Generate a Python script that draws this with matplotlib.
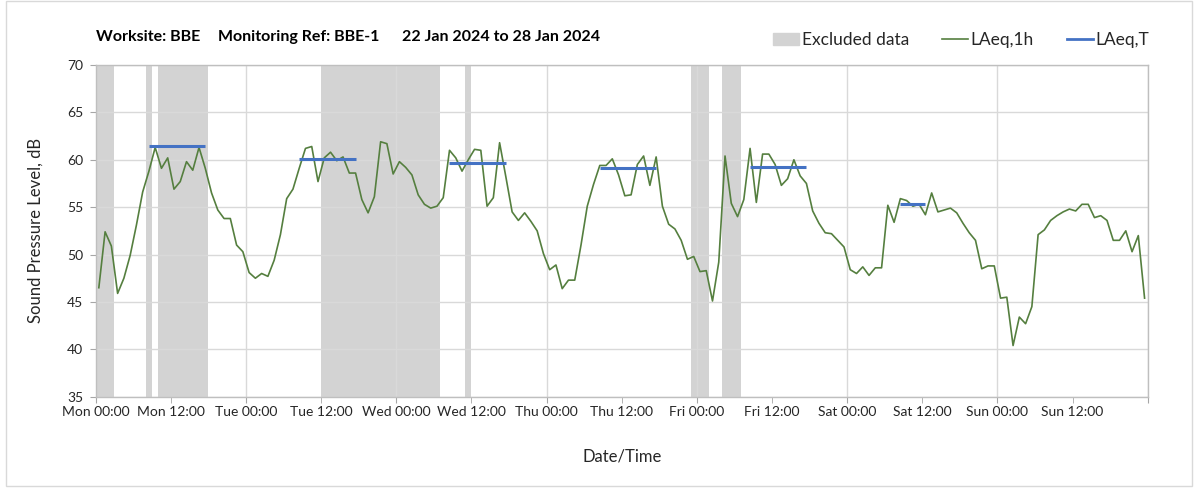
import matplotlib
matplotlib.use("Agg")
import matplotlib.pyplot as plt
from matplotlib.patches import Patch, Rectangle
from matplotlib.lines import Line2D

plt.rcParams['font.family'] = ['Lato', 'DejaVu Sans']

# hourly LAeq values (dB), one per hour, Mon 00:00 -> Sun 23:00, plotted at mid-hour
laeq_mon = [46.5, 52.4, 50.9, 45.9, 47.5, 49.9, 53.1, 56.6, 58.8, 61.3, 59.1, 60.2,
            56.9, 57.7, 59.8, 58.9, 61.3, 59.1, 56.5, 54.7, 53.8, 53.8, 51.0, 50.3]
laeq_tue = [48.1, 47.5, 48.0, 47.7, 49.4, 52.1, 55.9, 56.9, 59.1, 61.2, 61.4, 57.7,
            60.2, 60.8, 59.9, 60.3, 58.6, 58.6, 55.8, 54.4, 56.1, 61.9, 61.7, 58.5]
laeq_wed = [59.8, 59.2, 58.4, 56.3, 55.3, 54.9, 55.1, 56.0, 61.0, 60.2, 58.8, 60.0,
            61.1, 61.0, 55.1, 56.0, 61.8, 58.2, 54.5, 53.6, 54.4, 53.5, 52.5, 50.1]
laeq_thu = [48.4, 48.9, 46.4, 47.3, 47.3, 51.0, 55.1, 57.4, 59.4, 59.4, 60.1, 58.4,
            56.2, 56.3, 59.5, 60.4, 57.3, 60.3, 55.1, 53.2, 52.7, 51.5, 49.5, 49.8]
laeq_fri = [48.2, 48.3, 45.1, 49.2, 60.4, 55.4, 54.0, 55.8, 61.2, 55.5, 60.6, 60.6,
            59.5, 57.3, 58.0, 60.0, 58.3, 57.5, 54.6, 53.3, 52.3, 52.2, 51.5, 50.8]
laeq_sat = [48.4, 48.0, 48.7, 47.8, 48.6, 48.6, 55.2, 53.4, 55.9, 55.7, 55.1, 55.3,
            54.2, 56.5, 54.5, 54.7, 54.9, 54.4, 53.3, 52.3, 51.5, 48.5, 48.8, 48.8]
laeq_sun = [45.4, 45.5, 40.4, 43.4, 42.7, 44.5, 52.1, 52.6, 53.6, 54.1, 54.5, 54.8,
            54.6, 55.3, 55.3, 53.9, 54.1, 53.6, 51.5, 51.5, 52.5, 50.3, 52.0, 45.4]
laeq_1h = laeq_mon + laeq_tue + laeq_wed + laeq_thu + laeq_fri + laeq_sat + laeq_sun
hours = [h + 0.5 for h in range(len(laeq_1h))]

# excluded periods (hours from Mon 00:00)
excl_start = [0, 8, 10, 36, 59, 95, 100]
excl_end = [3, 9, 18, 55, 60, 98, 103]

# LAeq,T daytime periods
laeqt_start = [8.5, 32.5, 56.5, 80.5, 104.5, 128.5]
laeqt_end = [17.5, 41.5, 65.5, 89.5, 113.5, 132.5]
laeqt_val = [61.45, 60.1, 59.7, 59.1, 59.2, 55.3]

days = ['Mon', 'Tue', 'Wed', 'Thu', 'Fri', 'Sat', 'Sun']

green = '#557f3f'
blue = '#4472c4'
grey = '#d3d3d3'
gridc = '#d9d9d9'
txt = '#262626'

fig = plt.figure(figsize=(12.03, 4.9), dpi=100)
fig.patches.append(Rectangle((6 / 1203, 4 / 490), 1186 / 1203, 485 / 490,
                             transform=fig.transFigure, fill=False,
                             edgecolor='#d9d9d9', lw=1))
ax = fig.add_axes([95.7 / 1203, 1 - 396.7 / 490, 1052 / 1203, 331.7 / 490])

for s, e in zip(excl_start, excl_end):
    ax.axvspan(s, e, color=grey, lw=0, zorder=0)

ax.plot(hours, laeq_1h, color=green, lw=1.2, zorder=3)
ax.hlines(laeqt_val, laeqt_start, laeqt_end, color=blue, lw=2.2, zorder=4)

ax.set_xlim(0, 168)
ax.set_ylim(35, 70)
ax.set_yticks(range(35, 71, 5))

major = list(range(0, 169, 24))
minor = list(range(12, 168, 24))
ax.set_xticks(major, labels=[d + ' 00:00' for d in days] + [''])
ax.set_xticks(minor, labels=[d + ' 12:00' for d in days], minor=True)
ax.tick_params(axis='x', which='both', length=4, color='#a6a6a6', labelsize=10,
               labelcolor=txt, pad=3)
ax.tick_params(axis='y', length=4, color='#a6a6a6', labelsize=10, labelcolor=txt, pad=5)

ax.grid(True, which='major', color=gridc, lw=1, zorder=1)
ax.set_axisbelow(True)
for sp in ax.spines.values():
    sp.set_color('#bfbfbf')
    sp.set_linewidth(1)

ax.set_ylabel('Sound Pressure Level, dB', fontsize=12, color=txt, labelpad=17)
ax.set_xlabel('Date/Time', fontsize=12, color=txt, labelpad=22)

fig.text(96 / 1203, 1 - 37 / 490, 'Worksite: BBE', fontsize=11.5, fontweight='bold',
         color='black', va='center')
fig.text(218 / 1203, 1 - 37 / 490, 'Monitoring Ref: BBE-1', fontsize=11.5,
         fontweight='bold', color='black', va='center')
fig.text(402 / 1203, 1 - 37 / 490, '22 Jan 2024 to 28 Jan 2024', fontsize=11.5,
         fontweight='bold', color='black', va='center')

handles = [Patch(color=grey, label='Excluded data'),
           Line2D([], [], color=green, lw=1.2, label='LAeq,1h'),
           Line2D([], [], color=blue, lw=2, label='LAeq,T')]
fig.legend(handles=handles, loc='center right', bbox_to_anchor=(1165 / 1203, 1 - 40 / 490),
           ncol=3, frameon=False, fontsize=12.5, handlelength=1.5, handletextpad=0.15,
           columnspacing=1.9, labelcolor=txt)

fig.savefig('out.png', dpi=100)
